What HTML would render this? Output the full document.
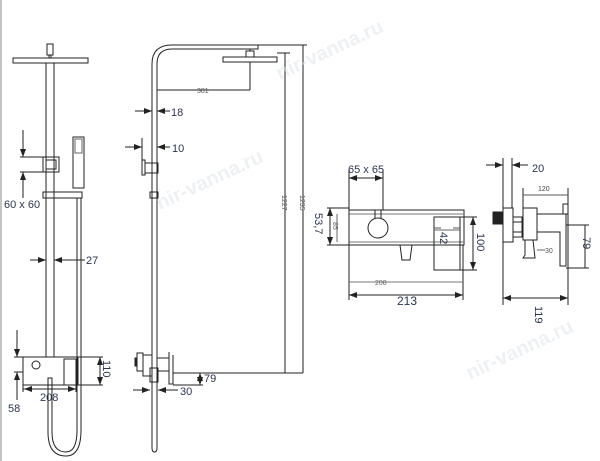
<!DOCTYPE html>
<html><head><meta charset="utf-8"><style>
html,body{margin:0;padding:0;background:#fff;width:600px;height:461px;overflow:hidden}
svg{display:block}
text{font-family:"Liberation Sans",sans-serif;fill:#2d3550}
</style></head><body>
<svg width="600" height="461" viewBox="0 0 600 461" xmlns="http://www.w3.org/2000/svg">
<defs>
<marker id="a" markerWidth="8" markerHeight="6" refX="8" refY="3" orient="auto" markerUnits="userSpaceOnUse"><path d="M0,0 L8,3 L0,6 z" fill="#222"/></marker>
</defs>
<g stroke="#222" stroke-width="1" fill="none">
<line x1="1" y1="0" x2="1" y2="461" stroke="#888"/>
<!-- LEFT FRONT VIEW -->
<rect x="13" y="58" width="75" height="5"/>
<rect x="47" y="44" width="6" height="11"/><line x1="49" y1="55" x2="49" y2="58"/><line x1="51" y1="55" x2="51" y2="58"/>
<line x1="46" y1="63" x2="46" y2="357"/><line x1="54" y1="63" x2="54" y2="357"/>
<rect x="43" y="157" width="16" height="15"/><rect x="46" y="160" width="10" height="9"/>
<rect x="73" y="137" width="11" height="51"/><rect x="75" y="139" width="7" height="14" stroke="#666"/>
<rect x="43" y="192" width="39" height="6"/>
<path d="M77 198 V430 Q77 452 66 452 Q52 452 52 432 V385"/>
<path d="M81 198 V430 Q81 456 66 456 Q48 456 48 432 V385"/>
<rect x="23" y="357" width="55" height="28"/>
<circle cx="36" cy="365" r="4"/>
<rect x="64" y="359" width="12" height="26"/>
<rect x="48" y="378" width="4" height="7"/>
<!-- left dims -->
<line x1="20" y1="157" x2="43" y2="157"/><line x1="20" y1="172" x2="43" y2="172"/>
<line x1="23" y1="130" x2="23" y2="157" marker-end="url(#a)"/>
<line x1="23" y1="198" x2="23" y2="172" marker-end="url(#a)"/>
<line x1="30" y1="260" x2="46" y2="260" marker-end="url(#a)"/>
<line x1="85" y1="260" x2="54" y2="260" marker-end="url(#a)"/>
<line x1="17" y1="330" x2="17" y2="357" marker-end="url(#a)"/>
<line x1="17" y1="400" x2="17" y2="372" marker-end="url(#a)"/>
<line x1="14" y1="357" x2="23" y2="357"/><line x1="14" y1="372" x2="23" y2="372"/>
<line x1="23" y1="385" x2="23" y2="392"/><line x1="76" y1="385" x2="76" y2="392"/>
<line x1="25" y1="389" x2="23" y2="389"/>
<line x1="50" y1="389" x2="24" y2="389" marker-end="url(#a)"/><line x1="50" y1="389" x2="76" y2="389" marker-end="url(#a)"/>
<line x1="78" y1="357" x2="103" y2="357"/><line x1="78" y1="385" x2="103" y2="385"/>
<line x1="100" y1="371" x2="100" y2="357" marker-end="url(#a)"/><line x1="100" y1="371" x2="100" y2="385" marker-end="url(#a)"/>
<!-- MIDDLE SIDE VIEW -->
<path d="M152 448 V64 Q152 45 172 45 H258 V49 H172 Q157 49 157 64 V448 Q157 452 154.5 452 Q152 452 152 448"/>
<rect x="223" y="57" width="54" height="5"/><rect x="246" y="51" width="8" height="6"/><line x1="250" y1="49" x2="250" y2="51"/>
<line x1="157" y1="90" x2="250" y2="90"/><line x1="250" y1="62" x2="250" y2="90"/>
<line x1="135" y1="111" x2="152" y2="111" marker-end="url(#a)"/><line x1="170" y1="111" x2="157" y2="111" marker-end="url(#a)"/>
<line x1="142" y1="138" x2="142" y2="160"/><line x1="157" y1="138" x2="157" y2="148"/>
<line x1="125" y1="147" x2="142" y2="147" marker-end="url(#a)"/><line x1="170" y1="147" x2="157" y2="147" marker-end="url(#a)"/>
<rect x="142" y="160" width="3" height="15"/><rect x="145" y="163" width="13" height="10"/>
<rect x="150" y="192" width="8" height="6"/>
<rect x="137" y="353" width="6" height="18"/><rect x="135" y="358" width="2" height="8" fill="#222"/>
<rect x="143" y="355" width="9" height="21"/><rect x="157" y="358" width="12" height="13"/><rect x="150" y="368" width="8" height="14"/>
<path d="M169 352 V384 H173 V355"/>
<line x1="173" y1="373" x2="303" y2="373"/>
<line x1="173" y1="385" x2="203" y2="385"/>
<line x1="200" y1="378" x2="200" y2="373" marker-end="url(#a)"/><line x1="200" y1="380" x2="200" y2="385" marker-end="url(#a)"/>
<line x1="133" y1="390" x2="150" y2="390" marker-end="url(#a)"/><line x1="178" y1="390" x2="158" y2="390" marker-end="url(#a)"/>
<line x1="258" y1="45" x2="307" y2="45"/><line x1="277" y1="53" x2="290" y2="53"/>
<line x1="285" y1="53" x2="285" y2="373"/><line x1="303" y1="45" x2="303" y2="373"/>
<!-- RIGHT FRONT MIXER -->
<rect x="349" y="210" width="115" height="35"/>
<line x1="349" y1="214" x2="464" y2="214" stroke="#777"/><line x1="349" y1="242" x2="464" y2="242" stroke="#777"/>
<circle cx="378" cy="228" r="10"/><path d="M375 218 V210 H381 V218"/>
<rect x="434" y="217" width="26" height="53"/><line x1="434" y1="230" x2="460" y2="230" stroke="#666"/>
<path d="M400 245 L402 260 H410 L412 245"/>
<line x1="349" y1="170" x2="349" y2="300"/><line x1="383" y1="170" x2="383" y2="210"/>
<line x1="366" y1="178" x2="349" y2="178" marker-end="url(#a)"/><line x1="366" y1="178" x2="383" y2="178" marker-end="url(#a)"/>
<line x1="327" y1="208" x2="349" y2="208"/><line x1="327" y1="245" x2="349" y2="245"/>
<line x1="330" y1="226" x2="330" y2="208" marker-end="url(#a)"/><line x1="330" y1="226" x2="330" y2="245" marker-end="url(#a)"/>
<line x1="337" y1="214" x2="337" y2="242" stroke="#666"/>
<line x1="460" y1="217" x2="477" y2="217"/><line x1="460" y1="270" x2="477" y2="270"/>
<line x1="473" y1="243" x2="473" y2="217" marker-end="url(#a)"/><line x1="473" y1="243" x2="473" y2="270" marker-end="url(#a)"/>
<line x1="441" y1="228" x2="434" y2="228" stroke="#555"/><line x1="453" y1="228" x2="460" y2="228" stroke="#555"/>
<line x1="463" y1="245" x2="463" y2="300"/>
<line x1="349" y1="282" x2="463" y2="282" stroke="#777"/>
<line x1="406" y1="295" x2="349" y2="295" marker-end="url(#a)"/><line x1="406" y1="295" x2="463" y2="295" marker-end="url(#a)"/>
<!-- RIGHT SIDE MIXER -->
<line x1="503" y1="158" x2="503" y2="305"/><line x1="512" y1="158" x2="512" y2="208"/>
<rect x="503" y="208" width="10" height="34"/>
<rect x="493" y="212" width="10" height="12" fill="#222"/>
<rect x="513" y="217" width="9" height="20"/><line x1="513" y1="222" x2="522" y2="222"/><line x1="513" y1="232" x2="522" y2="232"/>
<rect x="523" y="208" width="14" height="32"/>
<path d="M537 214 H566 V266 H560 V232 H537"/>
<rect x="563" y="204" width="5" height="10"/>
<path d="M525 240 V255 L523 258 H535 L533 240"/>
<line x1="537" y1="250" x2="545" y2="250" stroke="#666"/>
<line x1="523" y1="188" x2="523" y2="208"/><line x1="568" y1="188" x2="568" y2="305"/>
<line x1="523" y1="195" x2="568" y2="195" stroke="#555"/>
<line x1="566" y1="225" x2="589" y2="225"/><line x1="566" y1="268" x2="589" y2="268"/>
<line x1="585" y1="225" x2="585" y2="268"/>
<line x1="486" y1="165" x2="503" y2="165" marker-end="url(#a)"/><line x1="528" y1="165" x2="512" y2="165" marker-end="url(#a)"/>
<line x1="536" y1="298" x2="503" y2="298" marker-end="url(#a)"/><line x1="536" y1="298" x2="568" y2="298" marker-end="url(#a)"/>
</g>
<g font-size="11">
<text x="4" y="208">60 x 60</text>
<text x="86" y="264">27</text>
<text x="8" y="412">58</text>
<text x="40" y="401">208</text>
<text x="103" y="360" transform="rotate(90 103 360)">110</text>
<text x="171" y="116">18</text>
<text x="172" y="152">10</text>
<text x="204" y="382">79</text>
<text x="180" y="395">30</text>
<text x="348" y="173">65 x 65</text>
<text x="315" y="213" transform="rotate(90 315 213)">53,7</text>
<text x="477" y="233" transform="rotate(90 477 233)">100</text>
<text x="397" y="305" font-size="12">213</text>
<text x="532" y="172">20</text>
<text x="583" y="237" transform="rotate(90 583 237)">79</text>
<text x="535" y="306" transform="rotate(90 535 306)">119</text>
<text x="440" y="232" transform="rotate(90 440 232)">42</text>
</g>
<g font-size="7" fill="#555">
<text x="197" y="93" style="fill:#555">381</text>
<text x="375" y="285" style="fill:#666">208</text>
<text x="538" y="191" style="fill:#444">120</text>
<text x="545" y="253" style="fill:#555">30</text>
<text x="333" y="222" transform="rotate(90 333 222)" style="fill:#666">85</text>
<text x="282" y="195" transform="rotate(90 282 195)" style="fill:#555">1227</text>
<text x="300" y="195" transform="rotate(90 300 195)" style="fill:#555">1235</text>
</g>
<g font-size="20" font-weight="bold" fill="#e8ecef" opacity="0.5">
<text x="280" y="80" transform="rotate(-25 280 80)" style="fill:#dde2e6">nir-vanna.ru</text>
<text x="160" y="210" transform="rotate(-25 160 210)" style="fill:#dde2e6">nir-vanna.ru</text>
<text x="470" y="380" transform="rotate(-25 470 380)" style="fill:#dde2e6">nir-vanna.ru</text>
</g>
</svg>
</body></html>
